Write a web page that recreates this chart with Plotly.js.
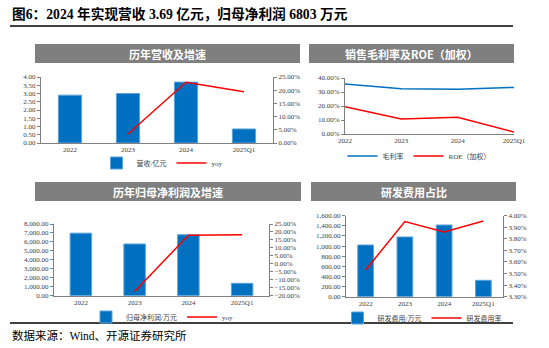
<!DOCTYPE html>
<html><head><meta charset="utf-8">
<script src="https://cdn.plot.ly/plotly-3.0.1.min.js"></script>
<style>html,body{margin:0;padding:0;background:#fff}#c{width:549px;height:348px}</style>
</head><body><div id="c"></div>
<script>
const categories = ['2022', '2023', '2024', '2025Q1'];
const revenue = [2.90, 3.00, 3.69, 0.85];            // 营收/亿元
const revenueYoy = [null, 3.4, 23.0, 19.4];          // %
const grossMargin = [35.7, 32.4, 31.9, 33.3];        // %
const roe = [19.5, 10.7, 11.9, 1.4];                 // %
const netProfit = [6980, 5770, 6803, 1380];          // 万元
const netProfitYoy = [null, -17.4, 17.9, 18.3];      // %
const rdExpense = [1021, 1180, 1416, 324];           // 万元
const rdRatio = [3.53, 3.95, 3.86, 3.955];           // %

const W = 549, H = 348;
const px = v => v / W, py = v => 1 - v / H;
const BLUE = '#0070C0', RED = '#FF0000', AX = '#808080';
const tickFont = {family: 'Liberation Serif, Noto Sans CJK SC', size: 7, color: '#404040'};
const legFont = {family: 'Liberation Serif, Noto Sans CJK SC', size: 7, color: '#404040'};

function yax(domain, range, dtick, fmt, suffix, extra) {
  return Object.assign({domain: domain, range: range, dtick: dtick, tick0: range[0], tickformat: fmt, ticksuffix: suffix || '',
    showgrid: false, zeroline: false, showline: true, linecolor: AX, linewidth: 1, ticks: 'outside', ticklen: 3,
    tickcolor: AX, tickfont: tickFont, fixedrange: true}, extra || {});
}
function xax(domain, anchor) {
  return {domain: domain, anchor: anchor, type: 'category', showgrid: false, zeroline: false, showline: true,
    linecolor: AX, linewidth: 1, ticks: '', tickfont: tickFont, fixedrange: true};
}

const barStyle = {color: BLUE, line: {color: '#5BA3DA', width: 1}};

const traces = [
  {type: 'bar', x: categories, y: revenue, name: '营收/亿元', xaxis: 'x', yaxis: 'y', marker: barStyle, legend: 'legend'},
  {type: 'scatter', mode: 'lines', x: categories, y: revenueYoy, name: 'yoy', xaxis: 'x', yaxis: 'y2', line: {color: RED, width: 1.5}, legend: 'legend'},
  {type: 'scatter', mode: 'lines', x: categories, y: grossMargin, name: '毛利率', xaxis: 'x2', yaxis: 'y3', line: {color: BLUE, width: 1.5}, legend: 'legend2'},
  {type: 'scatter', mode: 'lines', x: categories, y: roe, name: 'ROE（加权）', xaxis: 'x2', yaxis: 'y3', line: {color: RED, width: 1.5}, legend: 'legend2'},
  {type: 'bar', x: categories, y: netProfit, name: '归母净利润/万元', xaxis: 'x3', yaxis: 'y4', marker: barStyle, legend: 'legend3'},
  {type: 'scatter', mode: 'lines', x: categories, y: netProfitYoy, name: 'yoy', xaxis: 'x3', yaxis: 'y5', line: {color: RED, width: 1.5}, legend: 'legend3'},
  {type: 'bar', x: categories, y: rdExpense, name: '研发费用/万元', xaxis: 'x4', yaxis: 'y6', marker: barStyle, legend: 'legend4'},
  {type: 'scatter', mode: 'lines', x: categories, y: rdRatio, name: '研发费用率', xaxis: 'x4', yaxis: 'y7', line: {color: RED, width: 1.5}, legend: 'legend4'}
];

const d1x = [px(41), px(273)], d1y = [py(143), py(77)];
const d2x = [px(345), px(514)], d2y = [py(134), py(78)];
const d3x = [px(54), px(269)], d3y = [py(295.7), py(224)];
const d4x = [px(346), px(503)], d4y = [py(296.7), py(215.7)];

function legend(cx, cy) {
  return {orientation: 'h', x: px(cx), y: py(cy), xanchor: 'center', yanchor: 'middle', font: legFont,
    bgcolor: 'rgba(0,0,0,0)', itemwidth: 30, tracegroupgap: 0, itemclick: false};
}

const headerFont = {family: 'Noto Sans CJK SC', size: 11, color: '#ffffff', weight: 'bold'};
function header(x0, x1, y0, y1, text) {
  return {
    shape: {type: 'rect', xref: 'paper', yref: 'paper', x0: px(x0), x1: px(x1), y0: py(y1), y1: py(y0), fillcolor: '#7F7F7F', line: {width: 0}},
    ann: {xref: 'paper', yref: 'paper', x: px((x0 + x1) / 2), y: py((y0 + y1) / 2), xanchor: 'center', yanchor: 'middle', showarrow: false, text: '<b>' + text + '</b>', font: headerFont}
  };
}
const heads = [
  header(35, 300, 44, 63, '历年营收及增速'),
  header(309, 514, 44, 63, '销售毛利率及ROE（加权）'),
  header(35, 301, 182, 201, '历年归母净利润及增速'),
  header(311, 516, 182, 201, '研发费用占比')
];

const layout = {
  width: W, height: H, margin: {l: 0, r: 0, t: 0, b: 0}, paper_bgcolor: '#fff', plot_bgcolor: 'rgba(0,0,0,0)',
  bargap: 0.6,
  xaxis: xax(d1x, 'y'),
  yaxis: yax(d1y, [0, 4], 0.5, '.2f', '', {anchor: 'x'}),
  yaxis2: yax(d1y, [0, 25], 5, '.2f', '%', {overlaying: 'y', side: 'right', anchor: 'x'}),
  xaxis2: xax(d2x, 'y3'),
  yaxis3: yax(d2y, [0, 40], 10, '.2f', '%', {anchor: 'x2'}),
  xaxis3: xax(d3x, 'y4'),
  yaxis4: yax(d3y, [0, 8000], 1000, ',.2f', '', {anchor: 'x3'}),
  yaxis5: yax(d3y, [-20, 25], 5, '.2f', '%', {overlaying: 'y4', side: 'right', anchor: 'x3'}),
  xaxis4: xax(d4x, 'y6'),
  yaxis6: yax(d4y, [0, 1600], 200, ',.2f', '', {anchor: 'x4'}),
  yaxis7: yax(d4y, [3.3, 4.0], 0.1, '.2f', '%', {overlaying: 'y6', side: 'right', anchor: 'x4'}),
  legend: legend(162, 163),
  legend2: legend(419, 156),
  legend3: legend(162, 317),
  legend4: legend(422, 318),
  shapes: heads.map(h => h.shape).concat([
    {type: 'line', xref: 'paper', yref: 'paper', x0: px(10), x1: px(513), y0: py(26), y1: py(26), line: {color: '#000', width: 1.5}},
    {type: 'line', xref: 'paper', yref: 'paper', x0: px(10), x1: px(513), y0: py(323), y1: py(323), line: {color: '#000', width: 1.5}}
  ]),
  annotations: heads.map(h => h.ann).concat([
    {xref: 'paper', yref: 'paper', x: px(10), y: py(14), xanchor: 'left', yanchor: 'middle', showarrow: false,
      text: '<b>图6：2024 年实现营收 3.69 亿元，归母净利润 6803 万元</b>',
      font: {family: 'Liberation Serif, Noto Sans CJK SC', size: 13.7, color: '#000'}},
    {xref: 'paper', yref: 'paper', x: px(10), y: py(335), xanchor: 'left', yanchor: 'middle', showarrow: false,
      text: '数据来源：Wind、开源证券研究所',
      font: {family: 'Liberation Serif, Noto Sans CJK SC', size: 11.5, color: '#000'}}
  ])
};

Plotly.newPlot('c', traces, layout, {displayModeBar: false, staticPlot: true});
</script>
</body></html>
